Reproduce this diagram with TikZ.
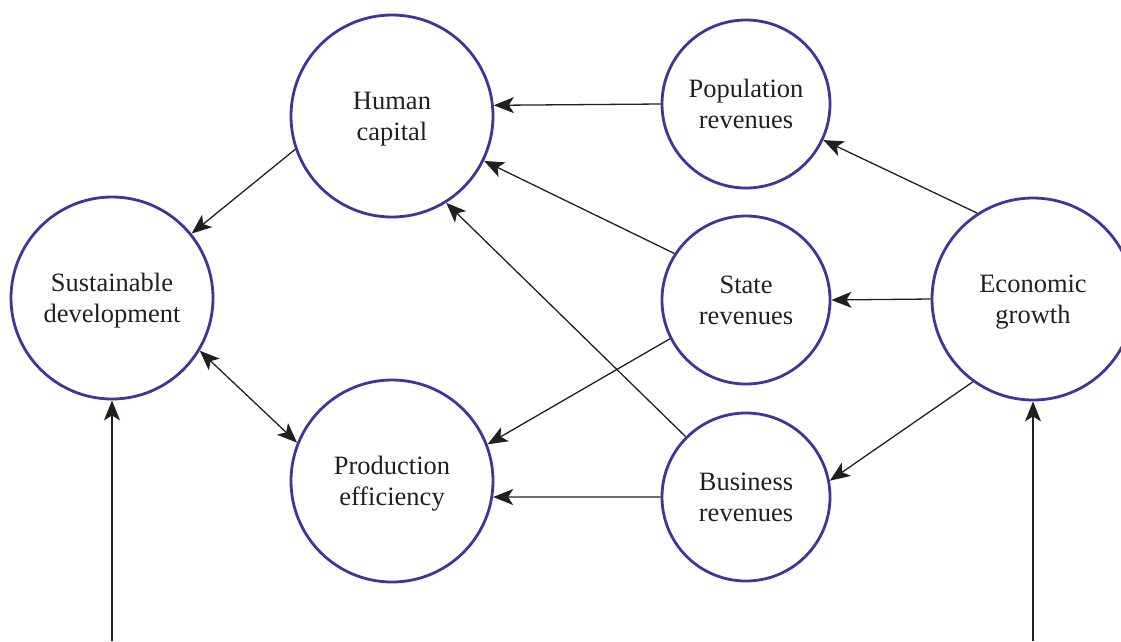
\documentclass[tikz,border=0pt]{standalone}
\usepackage{fontspec}
\setmainfont{Liberation Serif}
\usetikzlibrary{arrows.meta}
\definecolor{ringcol}{HTML}{40359A}
\definecolor{inkcol}{HTML}{231F20}
\begin{document}
\begin{tikzpicture}[x=1pt,y=-1pt,
  tip/.tip={Stealth[length=20pt, width=16pt, inset=5pt]},
  ring/.style={circle, draw=ringcol, line width=2.8pt, inner sep=0pt, align=center,
    text=inkcol, text height=52pt, text depth=4pt, font=\fontsize{26.5}{31}\selectfont},
  big/.style={ring, minimum size=202pt},
  small/.style={ring, minimum size=168pt},
  link/.style={draw=inkcol, line width=1.3pt, -tip},
  twoway/.style={link, tip-tip}]
\useasboundingbox (0,0) rectangle (1121,641);

% nodes
\node[big]   (HC) at (392,116)  {Human\\capital};
\node[small] (PR) at (746,104)  {Population\\revenues};
\node[big]   (SD) at (112,298)  {Sustainable\\development};
\node[small] (SR) at (746,300)  {State\\revenues};
\node[big]   (EG) at (1033,299) {Economic\\growth};
\node[big]   (PE) at (392,481)  {Production\\efficiency};
\node[small] (BR) at (746,497)  {Business\\revenues};

\coordinate (sdfoot) at (112,641);
\coordinate (egfoot) at (1033,641);

% connectors
\draw[link] (PR.west) -- (HC.6.8);
\draw[link] (HC.199.7) -- (SD.39);
\draw[link] (SR.147.6) -- (HC.334.4);
\draw[link] (BR.135.5) -- (HC.302.5);
\draw[link] (SR.207) -- (PE.21);
\draw[link] (BR.west) -- (PE.-9.1);
\draw[twoway] (SD.-31.5) -- (PE.158);
\draw[link] (EG.123) -- (PR.-25.7);
\draw[link] (EG.west) -- (SR.east);
\draw[link] (EG.234) -- (BR.11);
\draw[link] (sdfoot) -- (SD.south);
\draw[link] (egfoot) -- (EG.south);
\end{tikzpicture}
\end{document}
